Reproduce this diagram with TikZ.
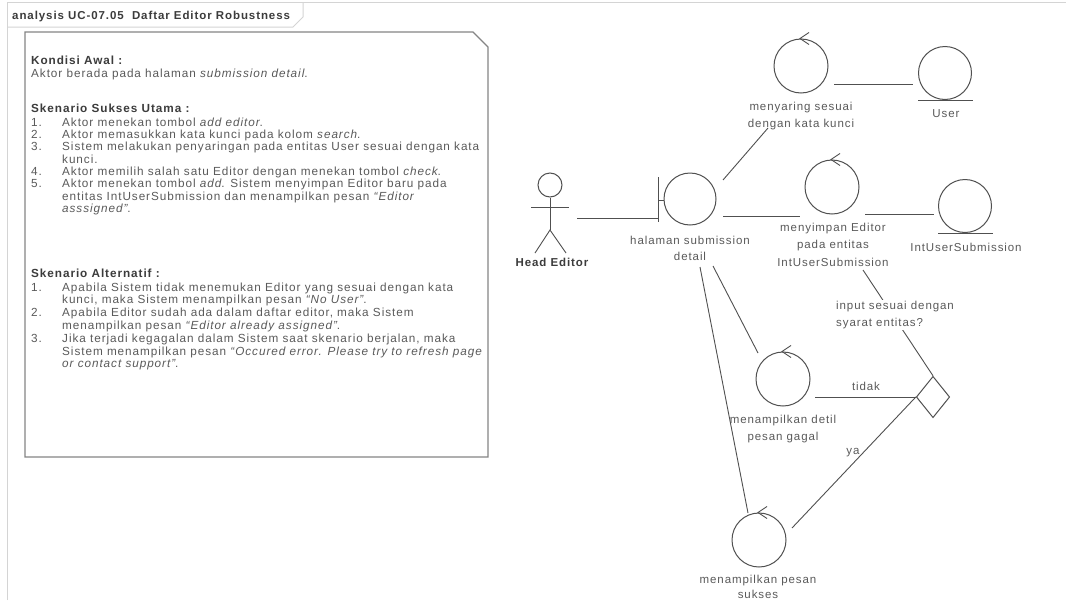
\documentclass[tikz,border=0pt]{standalone}
\usepackage{fontspec}
\setmainfont{Liberation Sans}[LetterSpace=8]
\usetikzlibrary{shapes.geometric,calc}
\definecolor{ln}{HTML}{505050}
\definecolor{tx}{HTML}{5A5A5A}
\definecolor{hd}{HTML}{3C3C3C}
\definecolor{fr}{HTML}{D4D4D4}
\definecolor{nb}{HTML}{858585}
\newcommand\itemno[1]{\makebox[31pt][l]{#1}}
\newcommand\ctrlarrow[1]{\draw[conn] ($(#1.north)+(8,-6)$) -- ($(#1.north)+(-1,0)$) -- ($(#1.north)+(8,6)$);}
\begin{document}
\begin{tikzpicture}[x=1pt,y=-1pt,
  every node/.style={font=\fontsize{11.5}{16.5}\selectfont, text=tx, inner sep=0pt},
  ntl/.style={anchor=base west, inner sep=0pt, font=\fontsize{11.75}{12.3}\selectfont},
  nth/.style={ntl, text=hd, font=\bfseries\fontsize{11.75}{12.3}\selectfont},
  lbl/.style={align=center},
  conn/.style={draw=ln, line width=0.9pt},
  ctrl/.style={circle, draw=ln, line width=1pt, minimum size=54pt, inner sep=0pt},
  ent/.style={circle, draw=ln, line width=1pt, minimum size=53pt, inner sep=0pt},
  bndy/.style={circle, draw=ln, line width=1pt, minimum size=52pt, inner sep=0pt},
  dia/.style={diamond, draw=ln, line width=1pt, minimum width=33.4pt, minimum height=41.4pt, inner sep=0pt}
]
\useasboundingbox (0,0) rectangle (1066,600);
\fill[white] (0,0) rectangle (1066,600);
% frame
\draw[fr, line width=1pt] (7,600) -- (7,2) -- (1066,2);
\draw[fr, line width=1pt] (7,27) -- (293,27) -- (303,17) -- (303,2);
\node[anchor=base west, text=hd, font=\bfseries\fontsize{11.5}{14}\selectfont] (title) at (12,19) {analysis UC-07.05\ \ Daftar Editor Robustness};

% note
\draw[draw=nb, line width=1.2pt] (25,32) -- (473,32) -- (488,47) -- (488,457) -- (25,457) -- cycle;
\node[nth] (k1) at (31,64) {Kondisi Awal :};
\node[ntl] (k2) at (31,77) {Aktor berada pada halaman \textit{submission detail}.};
\node[nth] (s0) at (31,112) {Skenario Sukses Utama :};
\node[ntl] (s1) at (31,126.3) {\itemno{1.}Aktor menekan tombol \textit{add editor}.};
\node[ntl] (s2) at (31,138.6) {\itemno{2.}Aktor memasukkan kata kunci pada kolom \textit{search}.};
\node[ntl] (s3) at (31,150.9) {\itemno{3.}Sistem melakukan penyaringan pada entitas User sesuai dengan kata};
\node[ntl] (s3b) at (31,163.2) {\itemno{}kunci.};
\node[ntl] (s4) at (31,175.5) {\itemno{4.}Aktor memilih salah satu Editor dengan menekan tombol \textit{check}.};
\node[ntl] (s5) at (31,187.8) {\itemno{5.}Aktor menekan tombol \textit{add}. Sistem menyimpan Editor baru pada};
\node[ntl] (s5b) at (31,200.1) {\itemno{}entitas IntUserSubmission dan menampilkan pesan \textit{“Editor}};
\node[ntl] (s5c) at (31,212.4) {\itemno{}\textit{asssigned”}.};
\node[nth] (a0) at (31,277) {Skenario Alternatif :};
\node[ntl] (a1) at (31,291) {\itemno{1.}Apabila Sistem tidak menemukan Editor yang sesuai dengan kata};
\node[ntl] (a1b) at (31,303.8) {\itemno{}kunci, maka Sistem menampilkan pesan \textit{“No User”}.};
\node[ntl] (a2) at (31,316.6) {\itemno{2.}Apabila Editor sudah ada dalam daftar editor, maka Sistem};
\node[ntl] (a2b) at (31,329.4) {\itemno{}menampilkan pesan \textit{“Editor already assigned”}.};
\node[ntl] (a3) at (31,342.2) {\itemno{3.}Jika terjadi kegagalan dalam Sistem saat skenario berjalan, maka};
\node[ntl] (a3b) at (31,355) {\itemno{}Sistem menampilkan pesan \textit{“Occured error. Please try to refresh page}};
\node[ntl] (a3c) at (31,367.8) {\itemno{}\textit{or contact support”}.};

% actor
\node[circle, draw=ln, line width=1pt, minimum size=24pt] (act) at (550,185) {};
\draw[conn] (act.south) -- ($(act)+(0,45)$) coordinate (hip);
\draw[conn] ($(act)+(-19,22)$) -- ($(act)+(19,22)$);
\draw[conn] ($(hip)+(-15,23)$) -- (hip) -- ($(hip)+(16,23)$);
\node[text=hd, font=\bfseries\fontsize{11.5}{14}\selectfont] (actL) at (552,262) {Head Editor};

% boundary
\node[bndy] (bnd) at (690,199) {};
\draw[conn] ($(bnd)+(-32,-22)$) -- ($(bnd)+(-32,23)$);
\draw[conn] ($(bnd)+(-32,1)$) -- ($(bnd)+(-26,1)$);
\node[lbl] (bndL) at (690,248.5) {halaman submission\\detail};

% controls and entities
\node[ctrl] (sar) at (801,66) {};
\ctrlarrow{sar}
\node[lbl] (sarL) at (801,116) {menyaring sesuai\\dengan kata kunci};
\node[ent] (usr) at (945,73) {};
\draw[conn] ($(usr)+(-27,27)$) -- ($(usr)+(28,27)$);
\node[lbl] (usrL) at (946,114) {User};

\node[ctrl] (smp) at (832,187) {};
\ctrlarrow{smp}
\node[lbl, font=\fontsize{11.5}{17.5}\selectfont] (smpL) at (833,244.5) {menyimpan Editor\\pada entitas\\IntUserSubmission};
\node[ent] (ius) at (965,206) {};
\draw[conn] ($(ius)+(-27,27)$) -- ($(ius)+(28,27)$);
\node[lbl] (iusL) at (966,247) {IntUserSubmission};

\node[ctrl] (gag) at (783,379) {};
\ctrlarrow{gag}
\node[lbl] (gagL) at (783,429) {menampilkan detil\\pesan gagal};

\node[ctrl] (suk) at (759,540) {};
\ctrlarrow{suk}
\node[lbl, font=\fontsize{11.5}{15}\selectfont] (sukL) at (758,586.5) {menampilkan pesan\\sukses};

\node[dia] (dec) at (933,397) {};

% connectors
\draw[conn] ($(act)+(27,33)$) -- ($(bnd)+(-32,19)$);
\draw[conn] ($(bnd)+(33,-19)$) -- ($(sar)+(-33,62)$);
\draw[conn] ($(sar)+(33,18)$) -- ($(usr)+(-32,11)$);
\draw[conn] ($(bnd)+(33,17)$) -- ($(smp)+(-32,29)$);
\draw[conn] ($(smp)+(33,27)$) -- ($(ius)+(-31,8)$);
\draw[conn] ($(smp)+(31,83)$) -- (dec.north);
\node[fill=white, align=left, anchor=west, inner sep=1pt] (cond) at (835,315) {input sesuai dengan\\syarat entitas?};
\draw[conn] (dec.west) -- ($(gag)+(32,18)$);
\node (tidak) at (866,386) {tidak};
\draw[conn] (dec.west) -- ($(suk)+(33,-12)$);
\node (ya) at (853,453) {ya};
\draw[conn] ($(bnd)+(23,67)$) -- ($(gag)+(-25,-26)$);
\draw[conn] ($(bnd)+(10,68)$) -- ($(suk)+(-11,-27)$);
\end{tikzpicture}
\end{document}
